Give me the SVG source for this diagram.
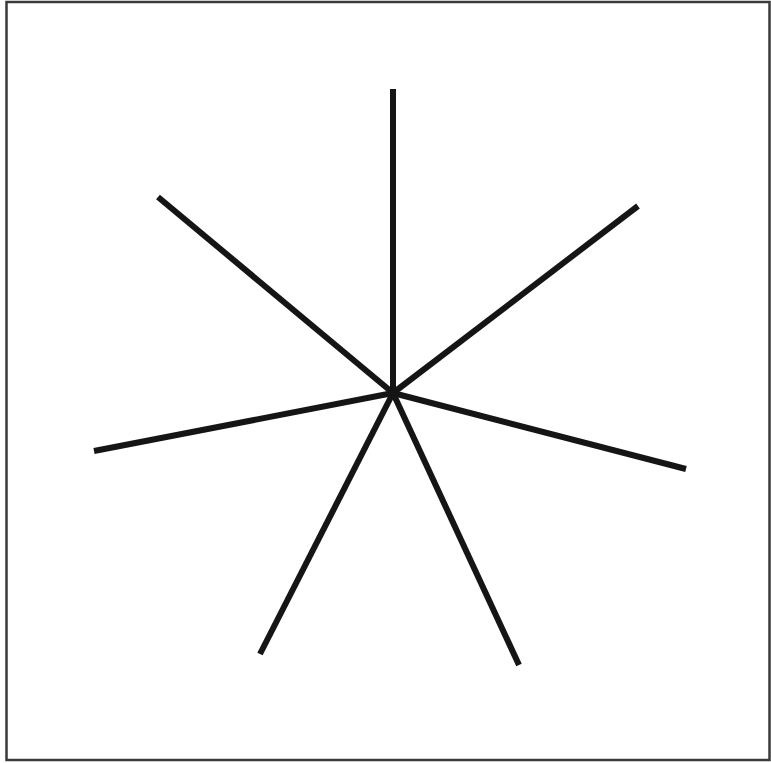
<svg xmlns="http://www.w3.org/2000/svg" width="771" height="763" viewBox="0 0 771 763">
<style>
.frame{fill:#fff;stroke:#3a3a3a;stroke-width:2.5}
.ray{stroke:#151515;stroke-width:6;stroke-linecap:butt;fill:none}
</style>
<rect class="frame" x="6.5" y="2" width="763" height="758"/>
<g id="connectors">
<line class="ray" x1="393" y1="393" x2="393" y2="89"/>
<line class="ray" x1="393" y1="393" x2="158" y2="197"/>
<line class="ray" x1="393" y1="393" x2="638" y2="206"/>
<line class="ray" x1="393" y1="393" x2="94" y2="451"/>
<line class="ray" x1="393" y1="393" x2="686" y2="469"/>
<line class="ray" x1="393" y1="393" x2="260" y2="654"/>
<line class="ray" x1="393" y1="393" x2="519" y2="665"/>
</g>
</svg>
